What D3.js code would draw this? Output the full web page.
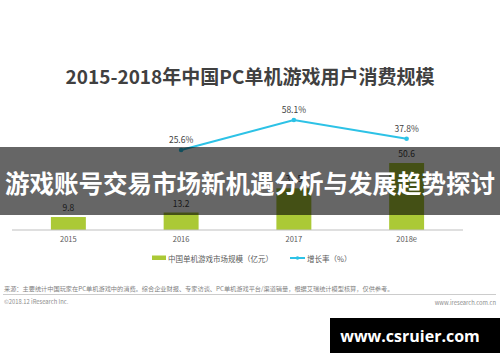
<!DOCTYPE html>
<html><head><meta charset="utf-8">
<script src="https://cdn.jsdelivr.net/npm/d3@7"></script>
<style>html,body{margin:0;padding:0;background:#fff;}svg{display:block;}</style>
</head><body>
<script>
const categories = ["2015", "2016", "2017", "2018e"];
const marketSize = [9.8, 13.2, 31.5, 50.6];
const growthYears = ["2016", "2017", "2018e"];
const growthRate = [25.6, 58.1, 37.8];
const titleText = "2015-2018年中国PC单机游戏用户消费规模";
const legendLabels = ["中国单机游戏市场规模（亿元）", "增长率（%）"];
const sourceText = "来源：主要统计中国玩家在PC单机游戏中的消费。综合企业财报、专家访谈、PC单机游戏平台/渠道销量，根据艾瑞统计模型核算，仅供参考。";
const copyrightText = "©2018.12 iResearch Inc.";
const siteText = "www.iresearch.com.cn";
const bannerText = "游戏账号交易市场新机遇分析与发展趋势探讨";
const watermarkText = "www.csruier.com";

const W = 500, H = 362;
const font = "'Noto Sans CJK SC','Noto Sans',sans-serif";
const svg = d3.select("body").append("svg").attr("width", W).attr("height", H)
  .style("font-family", font);

const barColor = "#abc936", lineColor = "#2dc2e6";

svg.append("text").attr("x", 250).attr("y", 75).attr("text-anchor", "middle")
  .attr("dominant-baseline", "central").attr("font-size", 19).attr("font-weight", "bold")
  .attr("fill", "#404040").text(titleText);

const x = d3.scaleBand().domain(categories).range([12, 463]).paddingInner(0.69).paddingOuter(0.345);
const yBar = d3.scaleLinear().domain([0, 60]).range([230, 230 - 60 * 1.324]);
const yLine = d3.scaleLinear().domain([0, 70]).range([173.6, 173.6 - 70 * 0.923]);

// bars
svg.selectAll("rect.bar").data(categories).join("rect").attr("class", "bar")
  .attr("x", d => x(d)).attr("width", x.bandwidth())
  .attr("y", (d, i) => yBar(marketSize[i])).attr("height", (d, i) => yBar(0) - yBar(marketSize[i]))
  .attr("fill", barColor);
svg.selectAll("text.bv").data(categories).join("text").attr("class", "bv")
  .attr("x", d => x(d) + x.bandwidth() / 2).attr("y", (d, i) => yBar(marketSize[i]) - 10)
  .attr("text-anchor", "middle").attr("dominant-baseline", "central")
  .attr("font-size", 8.5).attr("fill", "#404040").text((d, i) => marketSize[i].toFixed(1));

// axis
const axis = d3.axisBottom(x).tickSize(0).tickPadding(7);
const ag = svg.append("g").attr("transform", "translate(0,230)").call(axis);
ag.select(".domain").attr("stroke", "#bfbfbf").attr("d", "M12,0H463");
ag.selectAll("text").attr("font-size", 7.5).attr("fill", "#595959").style("font-family", font);

// line
const cx = d => x(d) + x.bandwidth() / 2;
const line = d3.line().x((d, i) => cx(growthYears[i])).y(d => yLine(d));
svg.append("path").datum(growthRate).attr("d", line).attr("fill", "none")
  .attr("stroke", lineColor).attr("stroke-width", 2);
svg.selectAll("circle.pt").data(growthRate).join("circle").attr("class", "pt")
  .attr("cx", (d, i) => cx(growthYears[i])).attr("cy", d => yLine(d)).attr("r", 2.3)
  .attr("fill", lineColor);
svg.selectAll("text.lv").data(growthRate).join("text").attr("class", "lv")
  .attr("x", (d, i) => cx(growthYears[i])).attr("y", d => yLine(d) - 11)
  .attr("text-anchor", "middle").attr("dominant-baseline", "central")
  .attr("font-size", 8.5).attr("fill", "#404040").text(d => d.toFixed(1) + "%");

// legend
svg.append("rect").attr("x", 152).attr("y", 255.5).attr("width", 14).attr("height", 4.5).attr("fill", barColor);
svg.append("text").attr("x", 168).attr("y", 258).attr("dominant-baseline", "central")
  .attr("font-size", 7.5).attr("fill", "#595959").text(legendLabels[0]);
svg.append("line").attr("x1", 290).attr("x2", 305).attr("y1", 258).attr("y2", 258)
  .attr("stroke", lineColor).attr("stroke-width", 2);
svg.append("circle").attr("cx", 297.5).attr("cy", 258).attr("r", 1.8).attr("fill", lineColor);
svg.append("text").attr("x", 307).attr("y", 258).attr("dominant-baseline", "central")
  .attr("font-size", 7.5).attr("fill", "#595959").text(legendLabels[1]);

// footer
svg.append("text").attr("x", 4).attr("y", 288).attr("dominant-baseline", "central")
  .attr("font-size", 6.2).attr("fill", "#7f7f7f").text(sourceText);
svg.append("line").attr("x1", 3).attr("x2", 496).attr("y1", 294.5).attr("y2", 294.5)
  .attr("stroke", "#bfbfbf").attr("stroke-width", 0.8);
svg.append("text").attr("x", 4).attr("y", 301).attr("dominant-baseline", "central")
  .attr("font-size", 5.8).attr("fill", "#8c8c8c").text(copyrightText);
svg.append("text").attr("x", 496).attr("y", 302).attr("text-anchor", "end").attr("dominant-baseline", "central")
  .attr("font-size", 5.8).attr("fill", "#8c8c8c").text(siteText);

// banner overlay
svg.append("rect").attr("x", 0).attr("y", 147).attr("width", W).attr("height", 68)
  .attr("fill", "rgba(0,0,0,0.6)");
svg.append("text").attr("x", 250).attr("y", 182).attr("text-anchor", "middle")
  .attr("dominant-baseline", "central").attr("font-size", 24.5).attr("font-weight", "bold")
  .attr("fill", "#fff").text(bannerText);

// watermark
svg.append("rect").attr("x", 330).attr("y", 318).attr("width", 170).attr("height", 35).attr("fill", "#000");
svg.append("text").attr("x", 410).attr("y", 336).attr("text-anchor", "middle")
  .attr("dominant-baseline", "central").attr("font-size", 16).attr("font-weight", "bold")
  .attr("fill", "#fff").style("font-family", "'Open Sans','DejaVu Sans',sans-serif").text(watermarkText);
</script>
</body></html>
